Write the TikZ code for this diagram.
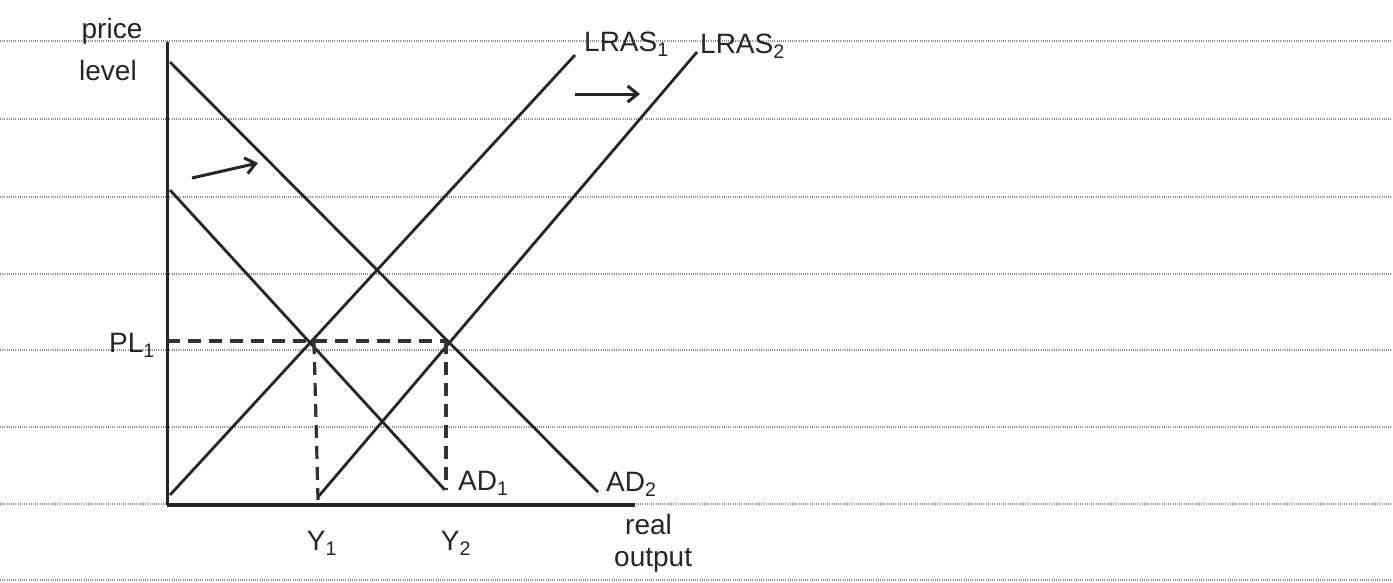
\documentclass[tikz,border=0pt]{standalone}
\usepackage{fontspec}
\setmainfont{Liberation Sans}
\usetikzlibrary{arrows.meta}
\begin{document}
\begin{tikzpicture}[x=1pt,y=-1pt,
  rule/.style={gray!90, line width=1.4pt, dash pattern=on 1pt off 1.2pt},
  curve/.style={black!85, line width=2.8pt},
  axis/.style={black!85, line width=3pt},
  xaxis/.style={black!85, line width=4pt},
  guide/.style={black!80, line width=3.2pt, dash pattern=on 13pt off 8pt},
  shiftarrow/.style={black!85, line width=3pt, -{Straight Barb[length=10pt,width=16pt]}},
  lbl/.style={inner sep=0pt, font=\fontsize{28}{30}\selectfont, text=black!85}]
\useasboundingbox (0,0) rectangle (1393,582);
\fill[white] (0,0) rectangle (1393,582);
% ruled paper
\foreach \yy in {41,119,197,274,350,427,504,580}
  \draw[rule] (0,\yy) -- (1393,\yy);
% axes
\coordinate (O) at (167,505);
\coordinate (ytop) at (167,42);
\coordinate (xend) at (635,505);
\draw[axis] (ytop) -- (O);
\draw[xaxis] (O) -- (xend);
% curves
\coordinate (ad2a) at (170,62);  \coordinate (ad2b) at (598,492);
\coordinate (ad1a) at (170,190); \coordinate (ad1b) at (445,490);
\coordinate (la1) at (170,495);  \coordinate (lb1) at (575,55);
\coordinate (la2) at (318,497);  \coordinate (lb2) at (697,52);
\draw[curve] (ad2a) -- (ad2b);
\draw[curve] (ad1a) -- (ad1b);
\draw[curve] (la1) -- (lb1);
\draw[curve] (la2) -- (lb2);
% equilibrium guides
\coordinate (e1) at (314,341);
\coordinate (e2) at (446,341);
\coordinate (pl) at (167,341);
\coordinate (y1b) at (318,500);
\coordinate (y2b) at (446,490);
\draw[guide] (pl) -- (e2);
\draw[guide] (e1) -- (y1b);
\draw[guide] (e2) -- (y2b);
% shift arrows
\coordinate (s1a) at (192,178); \coordinate (s1b) at (258,163);
\coordinate (s2a) at (575,94);  \coordinate (s2b) at (640,94);
\draw[shiftarrow] (s1a) -- (s1b);
\draw[shiftarrow] (s2a) -- (s2b);
% labels
\node[lbl] (price) at (112,31) {price};
\node[lbl] (level) at (108,70) {level};
\node[lbl, anchor=east] (pl1) at (155,345) {PL\textsubscript{1}};
\node[lbl] (y1) at (322,543) {Y\textsubscript{1}};
\node[lbl] (y2) at (456,543) {Y\textsubscript{2}};
\node[lbl, anchor=west] (ad1) at (458,483) {AD\textsubscript{1}};
\node[lbl, anchor=west] (ad2) at (606,484) {AD\textsubscript{2}};
\node[lbl, anchor=west] (real) at (625,524) {real};
\node[lbl, anchor=west] (output) at (614,560) {output};
\node[lbl, anchor=west] (lras1) at (584,44) {LRAS\textsubscript{1}};
\node[lbl, anchor=west] (lras2) at (700,46) {LRAS\textsubscript{2}};
\end{tikzpicture}
\end{document}
